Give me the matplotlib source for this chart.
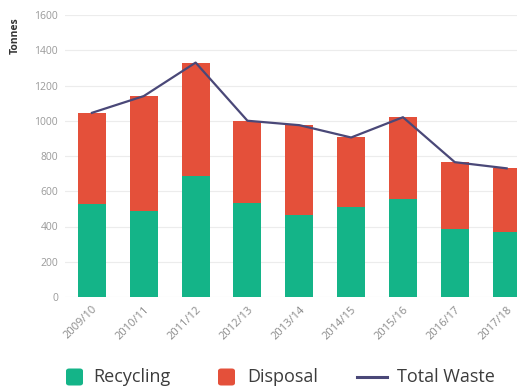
import matplotlib
matplotlib.use("Agg")
import matplotlib.pyplot as plt
from matplotlib.patches import FancyBboxPatch
from matplotlib.lines import Line2D
import numpy as np

plt.rcParams["font.family"] = ["Open Sans", "DejaVu Sans"]

years = ["2009/10", "2010/11", "2011/12", "2012/13", "2013/14",
         "2014/15", "2015/16", "2016/17", "2017/18"]
recycling = [527, 487, 687, 531, 467, 508, 556, 387, 368]
disposal = [518, 653, 643, 469, 508, 397, 464, 378, 362]
total_waste = [1045, 1140, 1330, 1000, 975, 905, 1020, 765, 730]

green = "#14b488"
red = "#e4503a"
navy = "#4a4878"

W, H = 528, 388
fig = plt.figure(figsize=(W / 100, H / 100), dpi=100)
ax = fig.add_axes([65 / W, 1 - 297 / H, (517 - 65) / W, (297 - 15) / H])

x = np.arange(len(years))
ax.bar(x, recycling, width=0.54, color=green, zorder=2)
ax.bar(x, disposal, width=0.54, bottom=recycling, color=red, zorder=2)
ax.plot(x, total_waste, color=navy, lw=1.6, zorder=3)

ax.set_xlim(-0.52, 8.2)
ax.set_ylim(0, 1600)
ax.set_yticks(range(0, 1601, 200))
ax.tick_params(axis="y", length=0, labelsize=7.5, labelcolor="#9a9a9a", pad=5)
ax.set_xticks(x)
ax.set_xticklabels(years, rotation=45, ha="right", rotation_mode="anchor")
ax.tick_params(axis="x", length=0, labelsize=8, labelcolor="#8a8a8a", pad=5)
ax.grid(axis="y", color="#ececec", lw=0.8, zorder=0)
for s in ax.spines.values():
    s.set_visible(False)

fig.text(15 / W, 1 - 36 / H, "Tonnes", rotation=90, fontsize=7.5,
         fontweight="bold", color="#333333", ha="center", va="center")

# legend row along the bottom, laid out in pixels
ly = 1 - 377 / H
sq = 17
for x0, col, label, tx in [(66, green, "Recycling", 93), (218, red, "Disposal", 247)]:
    fig.patches.append(FancyBboxPatch(
        (x0 / W, ly - sq / 2 / H), sq / W, sq / H,
        boxstyle="round,pad=0,rounding_size=0.006",
        fc=col, ec="none", transform=fig.transFigure, figure=fig))
    fig.text(tx / W, ly, label, fontsize=13, color="#3c3c3c",
             ha="left", va="center")
fig.add_artist(Line2D([357 / W, 387 / W], [ly, ly], color=navy, lw=2.2,
                      transform=fig.transFigure))
fig.text(397 / W, ly, "Total Waste", fontsize=13, color="#3c3c3c",
         ha="left", va="center")

fig.savefig("out.png", dpi=100)
